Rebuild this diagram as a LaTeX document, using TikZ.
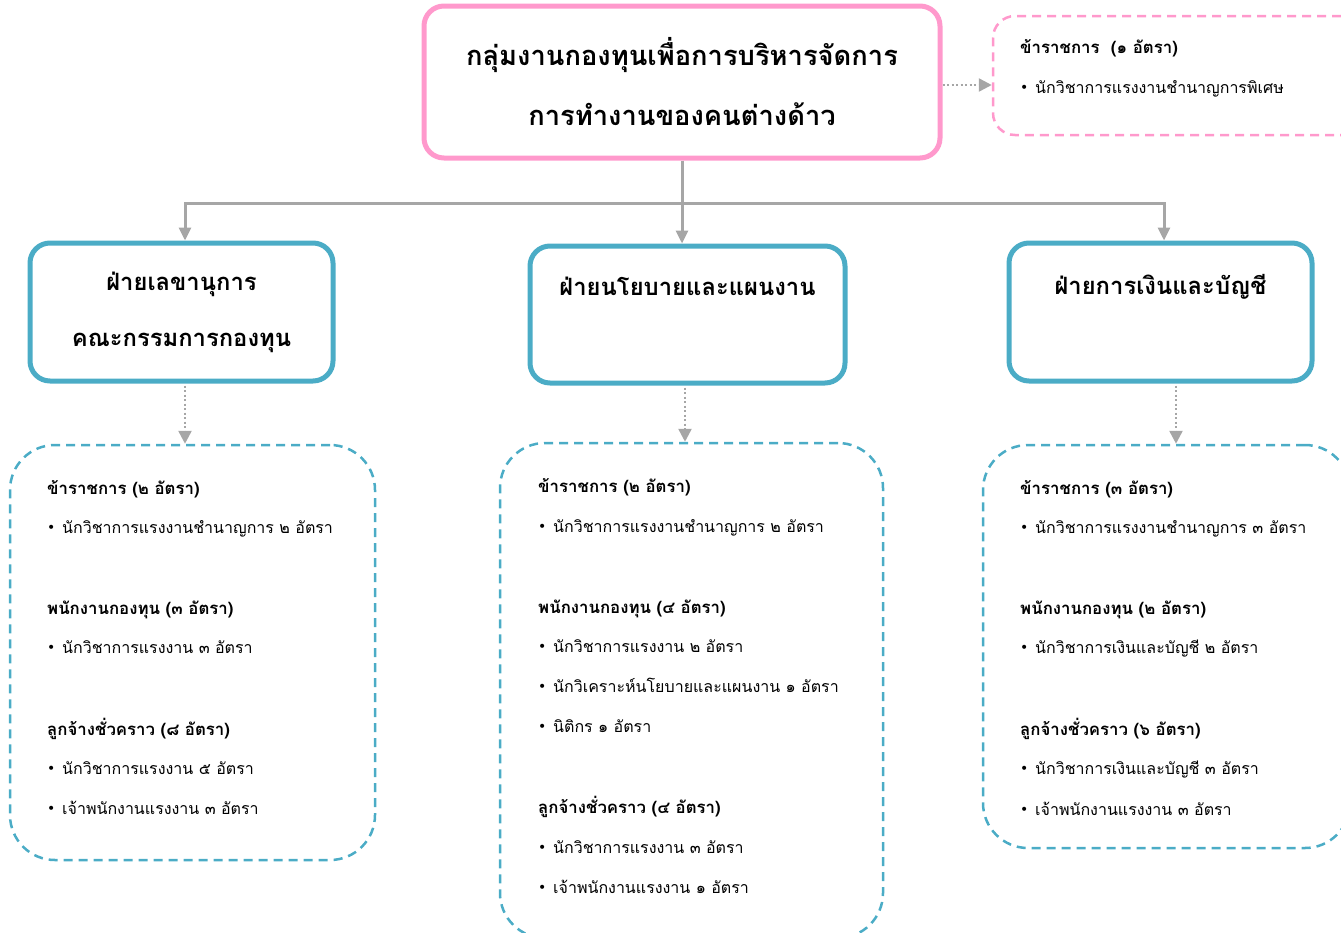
\documentclass[tikz,border=0pt]{standalone}
\usepackage{fontspec}
\newfontfamily\thai[Script=Thai]{Loma}
\newfontfamily\bulfont{DejaVu Sans}
\usetikzlibrary{arrows.meta}
\definecolor{pinkc}{RGB}{255,153,204}
\definecolor{tealc}{RGB}{75,172,198}
\definecolor{grayc}{RGB}{166,166,166}
\newcommand\bulletmark{\makebox[15pt][l]{\bulfont\fontsize{14}{14}\selectfont\raisebox{1pt}{•}}}
\begin{document}
\begin{tikzpicture}[x=1pt,y=-1pt,
  mainbox/.style={draw=pinkc,line width=5pt,rounded corners=20pt,
    minimum width=516pt,minimum height=152pt,inner sep=0pt,align=center,
    font=\thai\bfseries\fontsize{27.3}{63}\selectfont},
  deptbox/.style={draw=tealc,line width=5pt,rounded corners=20pt,
    minimum width=303pt,minimum height=138pt,inner sep=0pt,align=center,
    font=\thai\bfseries\fontsize{23.8}{56}\selectfont},
  staffbox/.style={draw=tealc,line width=2.5pt,dash pattern=on 9pt off 6pt,
    rounded corners=45pt,inner sep=0pt},
  extrabox/.style={draw=pinkc,line width=2.5pt,dash pattern=on 9pt off 6pt,
    rounded corners=22pt,inner sep=0pt},
  hdr/.style={anchor=mid west,inner sep=0pt,font=\thai\bfseries\fontsize{16.8}{20}\selectfont},
  itm/.style={anchor=mid west,inner sep=0pt,font=\thai\fontsize{16}{20}\selectfont},
  tree/.style={draw=grayc,line width=3pt,-{Triangle[length=13pt,width=12pt]}},
  dots/.style={draw=grayc,line width=2.5pt,dash pattern=on 2pt off 2.5pt,-{Triangle[length=13pt,width=13pt]}}
]
\path[use as bounding box] (0,0) rectangle (1341,932);

% top box
\node[mainbox] (top) at (682,82) {กลุ่มงานกองทุนเพื่อการบริหารจัดการ\\[-3pt]การทำงานของคนต่างด้าว};

% extra (special) box
\node[extrabox,minimum width=370pt,minimum height=119pt] (ex) at (1178,75.5) {};
\node[hdr] (ex1) at (1020,51) {ข้าราชการ~~(๑ อัตรา)};
\node[itm] (ex2) at (1020,91) {\bulletmark นักวิชาการแรงงานชำนาญการพิเศษ};
\draw[dots] (top.east |- 0,85) -- (ex.west |- 0,85);

% department boxes
\node[deptbox] (lb) at (181.5,312) {ฝ่ายเลขานุการ\\คณะกรรมการกองทุน};
\node[deptbox,minimum width=315pt,minimum height=137pt] (mb) at (687.5,314.5) {ฝ่ายนโยบายและแผนงาน\\~};
\node[deptbox] (rb) at (1160.5,312) {ฝ่ายการเงินและบัญชี\\~};

% tree connectors
\coordinate (bar) at (684,203);
\draw[tree] (top.south) -- (top.south |- mb.north);
\draw[tree] (bar) -| ([xshift=3.5pt]lb.north);
\draw[tree] (bar) -| ([xshift=3.5pt]rb.north);

% staff boxes
\node[staffbox,minimum width=365pt,minimum height=415pt] (ls) at (192.5,652.5) {};
\node[staffbox,minimum width=383pt,minimum height=495pt] (ms) at (691.5,690.5) {};
\node[staffbox,minimum width=367pt,minimum height=403pt] (rs) at (1166.5,646.5) {};

\draw[dots] (lb.south) ++(3.5,2) coordinate (la) -- (la |- ls.north);
\draw[dots] (mb.south) ++(-2.5,2) coordinate (ma) -- (ma |- ms.north);
\draw[dots] (rb.south) ++(15.5,2) coordinate (ra) -- (ra |- rs.north);

% left staff text
\node[hdr] (l1) at (47,492) {ข้าราชการ (๒ อัตรา)};
\node[itm] (l2) at (47,531) {\bulletmark นักวิชาการแรงงานชำนาญการ ๒ อัตรา};
\node[hdr] (l3) at (47,612) {พนักงานกองทุน (๓ อัตรา)};
\node[itm] (l4) at (47,651) {\bulletmark นักวิชาการแรงงาน ๓ อัตรา};
\node[hdr] (l5) at (47,733) {ลูกจ้างชั่วคราว (๘ อัตรา)};
\node[itm] (l6) at (47,772) {\bulletmark นักวิชาการแรงงาน ๕ อัตรา};
\node[itm] (l7) at (47,812) {\bulletmark เจ้าพนักงานแรงงาน ๓ อัตรา};

% middle staff text
\node[hdr] (m1) at (538,490) {ข้าราชการ (๒ อัตรา)};
\node[itm] (m2) at (538,530) {\bulletmark นักวิชาการแรงงานชำนาญการ ๒ อัตรา};
\node[hdr] (m3) at (538,611) {พนักงานกองทุน (๔ อัตรา)};
\node[itm] (m4) at (538,650) {\bulletmark นักวิชาการแรงงาน ๒ อัตรา};
\node[itm] (m5) at (538,690) {\bulletmark นักวิเคราะห์นโยบายและแผนงาน ๑ อัตรา};
\node[itm] (m6) at (538,730) {\bulletmark นิติกร ๑ อัตรา};
\node[hdr] (m7) at (538,811) {ลูกจ้างชั่วคราว (๔ อัตรา)};
\node[itm] (m8) at (538,851) {\bulletmark นักวิชาการแรงงาน ๓ อัตรา};
\node[itm] (m9) at (538,891) {\bulletmark เจ้าพนักงานแรงงาน ๑ อัตรา};

% right staff text
\node[hdr] (r1) at (1020,492) {ข้าราชการ (๓ อัตรา)};
\node[itm] (r2) at (1020,531) {\bulletmark นักวิชาการแรงงานชำนาญการ ๓ อัตรา};
\node[hdr] (r3) at (1020,612) {พนักงานกองทุน (๒ อัตรา)};
\node[itm] (r4) at (1020,651) {\bulletmark นักวิชาการเงินและบัญชี ๒ อัตรา};
\node[hdr] (r5) at (1020,733) {ลูกจ้างชั่วคราว (๖ อัตรา)};
\node[itm] (r6) at (1020,772) {\bulletmark นักวิชาการเงินและบัญชี ๓ อัตรา};
\node[itm] (r7) at (1020,813) {\bulletmark เจ้าพนักงานแรงงาน ๓ อัตรา};
\end{tikzpicture}
\end{document}
